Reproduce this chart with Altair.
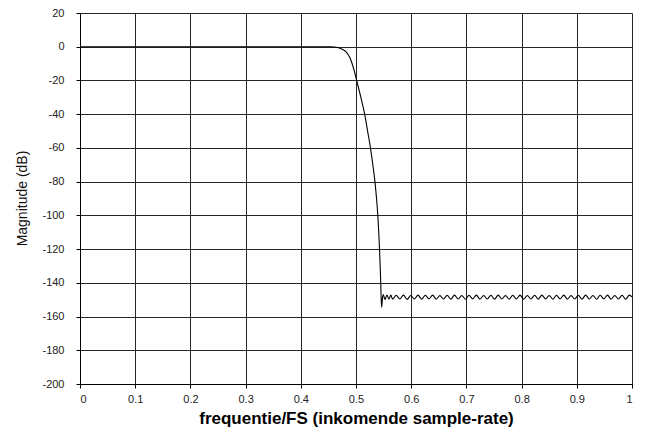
import altair as alt
import pandas as pd

# Passband and transition band (frequency / FS, magnitude dB)
pass_freq = [0.0, 0.10, 0.20, 0.30, 0.40, 0.44, 0.455, 0.465, 0.475, 0.482, 0.489,
             0.4966, 0.5012, 0.5085, 0.5157, 0.521, 0.5262, 0.5305, 0.5343, 0.5372,
             0.5395, 0.5412, 0.5426, 0.5438, 0.5448, 0.5457, 0.5465, 0.5478]
pass_db = [0.0, 0.0, 0.0, 0.0, 0.0, 0.0, -0.05, -0.3, -1.5, -3.0, -6.5,
           -14.0, -20.0, -29.6, -40.0, -50.0, -60.0, -70.0, -80.0, -90.0,
           -100.0, -110.0, -120.0, -130.0, -140.0, -150.0, -154.4, -149.5]

# Stopband ripple (peaks and troughs)
stop_freq = [0.5495, 0.5525, 0.5560, 0.5596, 0.5630,
             0.5662, 0.5728, 0.5794, 0.5860, 0.5926, 0.5992, 0.6058, 0.6124, 0.6190, 0.6256,
             0.6322, 0.6388, 0.6454, 0.6520, 0.6586, 0.6652, 0.6718, 0.6784, 0.6850, 0.6916,
             0.6982, 0.7048, 0.7114, 0.7180, 0.7246, 0.7312, 0.7378, 0.7444, 0.7510, 0.7576,
             0.7642, 0.7708, 0.7774, 0.7840, 0.7906, 0.7972, 0.8038, 0.8104, 0.8170, 0.8236,
             0.8302, 0.8368, 0.8434, 0.8500, 0.8566, 0.8632, 0.8698, 0.8764, 0.8830, 0.8896,
             0.8962, 0.9028, 0.9094, 0.9160, 0.9226, 0.9292, 0.9358, 0.9424, 0.9490, 0.9556,
             0.9622, 0.9688, 0.9754, 0.9820, 0.9886, 0.9952, 1.0]
stop_db = [-147.0, -149.9, -147.2, -149.7, -147.3,
           -149.7, -147.4, -149.6, -147.3, -149.8, -147.5, -149.6, -147.3, -149.7, -147.4,
           -149.5, -147.3, -149.7, -147.5, -149.6, -147.4, -149.7, -147.3, -149.6, -147.5,
           -149.7, -147.4, -149.5, -147.3, -149.7, -147.5, -149.6, -147.4, -149.7, -147.3,
           -149.6, -147.5, -149.7, -147.4, -149.5, -147.3, -149.7, -147.5, -149.6, -147.4,
           -149.7, -147.3, -149.6, -147.5, -149.7, -147.4, -149.5, -147.3, -149.7, -147.5,
           -149.6, -147.4, -149.7, -147.3, -149.6, -147.5, -149.7, -147.4, -149.5, -147.3,
           -149.7, -147.5, -149.6, -147.4, -149.7, -147.3, -148.4]

x_ticks = [0.0, 0.1, 0.2, 0.3, 0.4, 0.5, 0.6, 0.7, 0.8, 0.9, 1.0]
y_ticks = [20, 0, -20, -40, -60, -80, -100, -120, -140, -160, -180, -200]

df = pd.DataFrame({
    "freq": pass_freq + stop_freq,
    "db": pass_db + stop_db,
})

grid_color = "#262626"

chart = alt.Chart(df).mark_line(
    color="black", strokeWidth=1.1, interpolate="monotone"
).encode(
    x=alt.X("freq:Q",
            scale=alt.Scale(domain=[0, 1], nice=False, zero=False),
            axis=alt.Axis(values=x_ticks, labelExpr="'' + datum.value",
                          title="frequentie/FS (inkomende sample-rate)",
                          titleFont="Liberation Sans", titleFontSize=17,
                          titleFontWeight="bold", titleColor="black",
                          titleY=39, titleBaseline="alphabetic",
                          labelFont="Liberation Sans", labelFontSize=11,
                          labelColor="#222", labelPadding=5,
                          tickSize=4, tickColor="black",
                          domainColor="black",
                          grid=True, gridColor=grid_color, gridWidth=1,
                          gridOpacity=1)),
    y=alt.Y("db:Q",
            scale=alt.Scale(domain=[-200, 20], nice=False, zero=False),
            axis=alt.Axis(values=y_ticks, labelExpr="'' + datum.value",
                          title="Magnitude (dB)",
                          titleFont="Liberation Sans", titleFontSize=14,
                          titleFontWeight="normal", titleColor="#111",
                          titleX=-58, titleY=185, titleAngle=-90,
                          titleAlign="center", titleBaseline="middle",
                          labelFont="Liberation Sans", labelFontSize=11,
                          labelColor="#222", labelPadding=12,
                          tickSize=4, tickColor="black",
                          domainColor="black",
                          grid=True, gridColor=grid_color, gridWidth=1,
                          gridOpacity=1)),
).properties(
    width=552,
    height=371,
    autosize=alt.AutoSizeParams(type="none"),
    padding={"left": 72, "top": 5, "right": 6, "bottom": 43},
).configure_view(
    stroke="black", strokeWidth=1
).configure(background="white")

chart.save("out.html", embed_options={"renderer": "svg", "actions": False})
